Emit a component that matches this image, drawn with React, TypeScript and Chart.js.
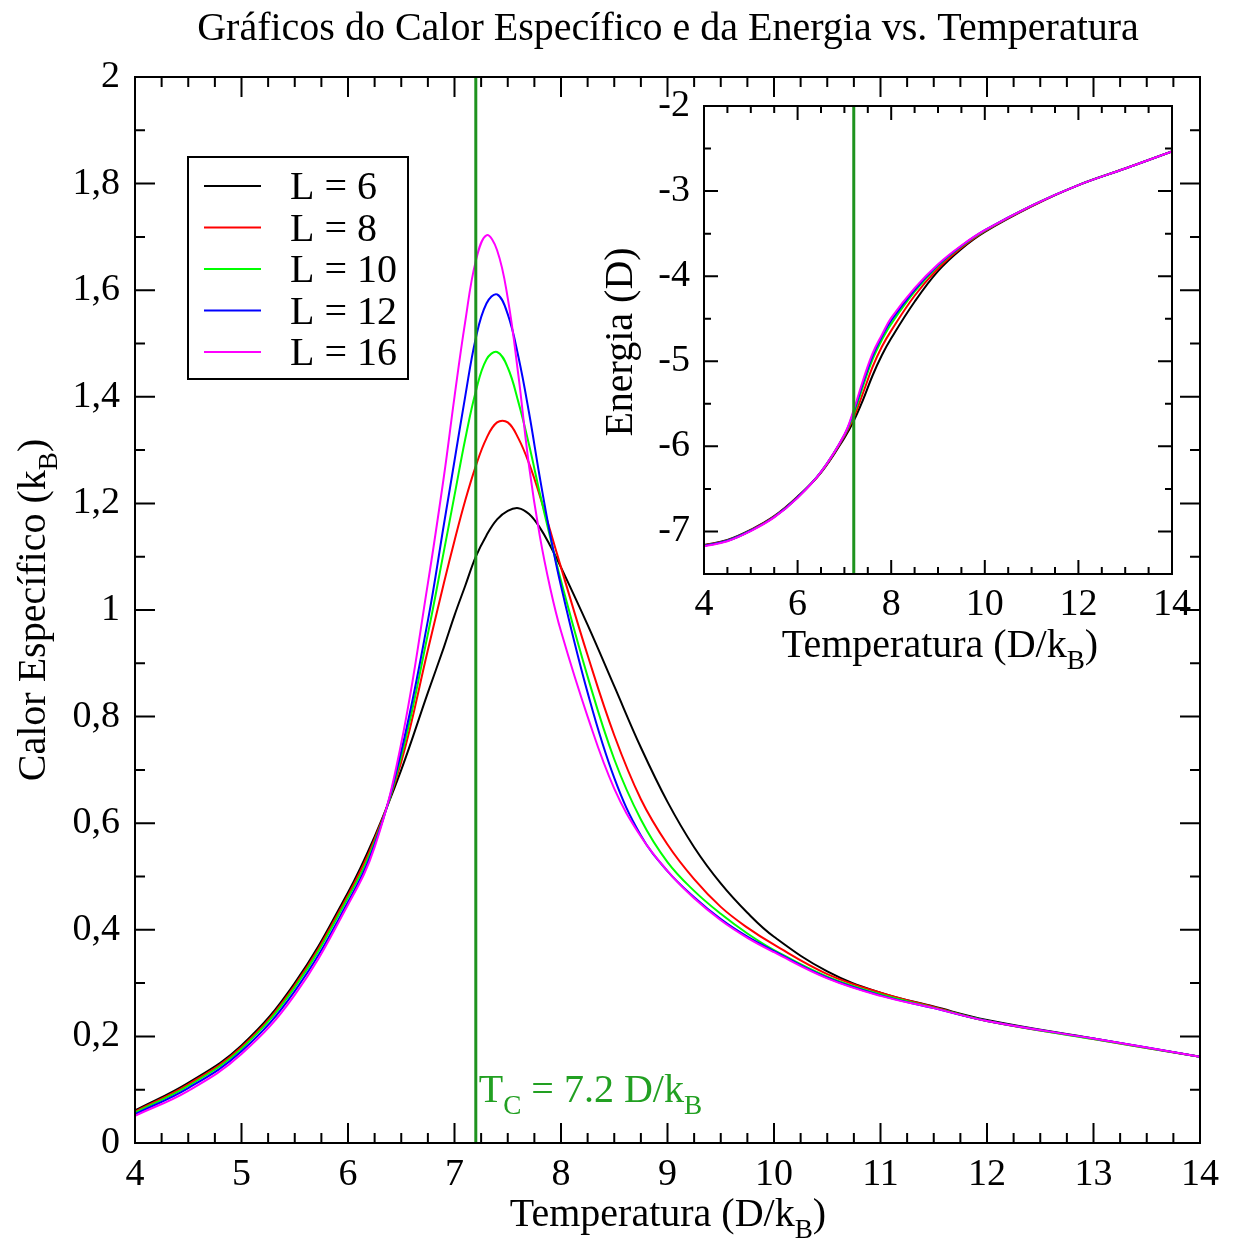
import React, { useEffect, useRef } from 'react';
import { Chart, registerables } from 'chart.js';

Chart.register(...registerables);

const SERIF = '"Liberation Serif", "Times New Roman", serif';
const PAGE_W = 1234;
const PAGE_H = 1241;
const TEXT_SIZE = 40;
const TICK_SIZE = 38;

// Lattice sizes and their line colours
const lattices = ['L = 6', 'L = 8', 'L = 10', 'L = 12', 'L = 16'];
const colors = ['#000000', '#ff0000', '#00ff00', '#0000ff', '#ff00ff'];

// Specific heat C(T) in units of k_B
const temperature = [4, 4.5, 5, 5.5, 6, 6.25, 6.5, 6.75, 6.9, 7, 7.1, 7.2, 7.3, 7.4, 7.5, 7.6, 7.7, 7.8, 7.9, 8, 8.25, 8.5, 8.75, 9, 9.25, 9.5, 9.75, 10, 10.5, 11, 11.5, 12, 13, 14];
const heatL6 = [0.061, 0.113, 0.183, 0.300, 0.470, 0.575, 0.700, 0.845, 0.930, 0.990, 1.045, 1.100, 1.140, 1.170, 1.186, 1.191, 1.180, 1.155, 1.120, 1.080, 0.972, 0.857, 0.742, 0.640, 0.555, 0.487, 0.432, 0.387, 0.322, 0.282, 0.256, 0.231, 0.196, 0.162];
const heatL8 = [0.059, 0.110, 0.180, 0.296, 0.465, 0.570, 0.715, 0.925, 1.050, 1.130, 1.205, 1.270, 1.322, 1.352, 1.352, 1.322, 1.275, 1.215, 1.148, 1.080, 0.915, 0.765, 0.645, 0.560, 0.495, 0.443, 0.404, 0.372, 0.317, 0.282, 0.255, 0.229, 0.195, 0.162];
const heatL10 = [0.057, 0.107, 0.177, 0.292, 0.460, 0.565, 0.725, 0.955, 1.110, 1.215, 1.320, 1.410, 1.470, 1.484, 1.455, 1.390, 1.310, 1.220, 1.135, 1.055, 0.875, 0.720, 0.607, 0.527, 0.473, 0.430, 0.393, 0.362, 0.312, 0.279, 0.254, 0.229, 0.195, 0.162];
const heatL12 = [0.054, 0.103, 0.172, 0.285, 0.452, 0.560, 0.735, 0.980, 1.160, 1.280, 1.400, 1.510, 1.575, 1.592, 1.555, 1.475, 1.370, 1.250, 1.140, 1.045, 0.845, 0.685, 0.577, 0.510, 0.461, 0.420, 0.387, 0.360, 0.310, 0.277, 0.253, 0.229, 0.196, 0.162];
const heatL16 = [0.051, 0.098, 0.167, 0.278, 0.447, 0.555, 0.750, 1.050, 1.250, 1.400, 1.540, 1.655, 1.703, 1.675, 1.585, 1.440, 1.270, 1.140, 1.040, 0.960, 0.800, 0.665, 0.575, 0.510, 0.459, 0.418, 0.385, 0.358, 0.309, 0.276, 0.253, 0.229, 0.196, 0.162];

// Energy E(T) in units of D
const energyTemperature = [4, 4.5, 5, 5.5, 6, 6.5, 7, 7.2, 7.4, 7.6, 7.8, 8, 8.5, 9, 9.5, 10, 11, 12, 13, 14];
const energyL6 = [-7.16, -7.10, -6.98, -6.82, -6.59, -6.31, -5.90, -5.70, -5.45, -5.17, -4.93, -4.73, -4.30, -3.94, -3.68, -3.48, -3.18, -2.93, -2.735, -2.535];
const energyL8 = [-7.165, -7.105, -6.985, -6.825, -6.595, -6.305, -5.88, -5.66, -5.37, -5.07, -4.83, -4.64, -4.23, -3.91, -3.665, -3.47, -3.175, -2.93, -2.735, -2.535];
const energyL10 = [-7.17, -7.11, -6.99, -6.83, -6.60, -6.30, -5.87, -5.62, -5.29, -4.98, -4.75, -4.56, -4.18, -3.88, -3.65, -3.465, -3.17, -2.93, -2.735, -2.535];
const energyL12 = [-7.17, -7.11, -6.99, -6.83, -6.60, -6.30, -5.865, -5.59, -5.25, -4.94, -4.71, -4.52, -4.16, -3.87, -3.645, -3.46, -3.17, -2.93, -2.735, -2.535];
const energyL16 = [-7.175, -7.115, -6.995, -6.835, -6.605, -6.30, -5.86, -5.57, -5.22, -4.91, -4.69, -4.49, -4.14, -3.86, -3.64, -3.46, -3.17, -2.93, -2.735, -2.535];

const heatSeries = [heatL6, heatL8, heatL10, heatL12, heatL16];
const energySeries = [energyL6, energyL8, energyL10, energyL12, energyL16];

// Critical temperature marker
const criticalTemperature = 7.2;
const tcLineColor = '#1e931e';
const tcTextColor = '#22a022';

// Axis ticks and labels
const mainXTicks = [4, 5, 6, 7, 8, 9, 10, 11, 12, 13, 14];
const mainXLabels = ['4', '5', '6', '7', '8', '9', '10', '11', '12', '13', '14'];
const mainYTicks = [0, 0.2, 0.4, 0.6, 0.8, 1, 1.2, 1.4, 1.6, 1.8, 2];
const mainYLabels = ['0', '0,2', '0,4', '0,6', '0,8', '1', '1,2', '1,4', '1,6', '1,8', '2'];
const mainXMinorStep = 0.25;
const mainYMinorStep = 0.1;

const insetXTicks = [4, 6, 8, 10, 12, 14];
const insetXLabels = ['4', '6', '8', '10', '12', '14'];
const insetYTicks = [-7, -6, -5, -4, -3, -2];
const insetYLabels = ['-7', '-6', '-5', '-4', '-3', '-2'];
const insetXMinorStep = 0.5;
const insetYMinorStep = 0.5;

type Seg = { t: string; sub?: boolean };

function stepValues(min: number, max: number, step: number): number[] {
  const out: number[] = [];
  const n = Math.round((max - min) / step);
  for (let i = 0; i <= n; i++) out.push(+(min + i * step).toFixed(6));
  return out;
}

function drawRich(
  ctx: CanvasRenderingContext2D,
  segs: Seg[],
  x: number,
  y: number,
  size: number,
  align: 'left' | 'center',
  color: string
) {
  const subSize = size * 0.68;
  const widths = segs.map((s) => {
    ctx.font = `${s.sub ? subSize : size}px ${SERIF}`;
    return ctx.measureText(s.t).width;
  });
  const total = widths.reduce((a, b) => a + b, 0);
  let cx = align === 'center' ? x - total / 2 : x;
  ctx.fillStyle = color;
  ctx.textAlign = 'left';
  ctx.textBaseline = 'alphabetic';
  segs.forEach((s, i) => {
    ctx.font = `${s.sub ? subSize : size}px ${SERIF}`;
    ctx.fillText(s.t, cx, s.sub ? y + size * 0.3 : y);
    cx += widths[i];
  });
}

function drawFrameAndTicks(
  chart: Chart,
  xMajor: number[],
  xMinor: number[],
  yMajor: number[],
  yMinor: number[],
  majorLen: number,
  minorLen: number
) {
  const { ctx, chartArea: a } = chart;
  const xs = chart.scales.x;
  const ys = chart.scales.y;
  ctx.save();
  ctx.strokeStyle = '#000';
  ctx.lineWidth = 2;
  ctx.beginPath();
  const xTick = (v: number, len: number) => {
    const p = xs.getPixelForValue(v);
    ctx.moveTo(p, a.bottom);
    ctx.lineTo(p, a.bottom - len);
    ctx.moveTo(p, a.top);
    ctx.lineTo(p, a.top + len);
  };
  const yTick = (v: number, len: number) => {
    const p = ys.getPixelForValue(v);
    ctx.moveTo(a.left, p);
    ctx.lineTo(a.left + len, p);
    ctx.moveTo(a.right, p);
    ctx.lineTo(a.right - len, p);
  };
  xMinor.forEach((v) => xTick(v, minorLen));
  xMajor.forEach((v) => xTick(v, majorLen));
  yMinor.forEach((v) => yTick(v, minorLen));
  yMajor.forEach((v) => yTick(v, majorLen));
  ctx.stroke();
  ctx.strokeRect(a.left, a.top, a.right - a.left, a.bottom - a.top);
  ctx.restore();
}

// Larger lattices are drawn on top (lower order is painted last)
function curveDataset(label: string, color: string, xs: number[], ys: number[], index: number) {
  return {
    label,
    data: xs.map((x, i) => ({ x, y: ys[i] })),
    borderColor: color,
    backgroundColor: color,
    borderWidth: 2,
    pointRadius: 0,
    tension: 0.4,
    fill: false,
    order: 10 - index,
  };
}

function tcDataset(yMin: number, yMax: number) {
  return {
    label: 'Tc',
    data: [
      { x: criticalTemperature, y: yMin },
      { x: criticalTemperature, y: yMax },
    ],
    borderColor: tcLineColor,
    backgroundColor: tcLineColor,
    borderWidth: 3,
    pointRadius: 0,
    tension: 0,
    fill: false,
    order: 0,
  };
}

function fixedScale(
  min: number,
  max: number,
  ticks: number[],
  labels: string[],
  padding: number,
  fit: (s: any) => void
) {
  return {
    type: 'linear' as const,
    min,
    max,
    grid: { display: false, drawTicks: false },
    border: { display: false },
    afterBuildTicks: (s: any) => {
      s.ticks = ticks.map((v) => ({ value: v }));
    },
    afterFit: fit,
    ticks: {
      autoSkip: false,
      maxRotation: 0,
      minRotation: 0,
      padding,
      color: '#000',
      font: { family: SERIF, size: TICK_SIZE },
      callback: (_v: any, i: number) => labels[i],
    },
  };
}

const MAIN_AREA = { left: 135, top: 77, right: 1200, bottom: 1143 };
const INSET_BOX = { left: 580, top: 60, width: 654, height: 620 };
const INSET_AREA = { left: 124, top: 46, right: 592, bottom: 514 };

const mainDecor = {
  id: 'mainDecor',
  afterDraw(chart: Chart) {
    const ctx = chart.ctx;
    drawFrameAndTicks(
      chart,
      mainXTicks,
      stepValues(4, 14, mainXMinorStep),
      mainYTicks,
      stepValues(0, 2, mainYMinorStep),
      20,
      10
    );
    ctx.save();
    // title
    drawRich(ctx, [{ t: 'Gráficos do Calor Específico e da Energia vs. Temperatura' }], 668, 40, TEXT_SIZE, 'center', '#000');
    // x axis title
    drawRich(ctx, [{ t: 'Temperatura (D/k' }, { t: 'B', sub: true }, { t: ')' }], 668, 1226, TEXT_SIZE, 'center', '#000');
    // y axis title
    ctx.save();
    ctx.translate(45, 610);
    ctx.rotate(-Math.PI / 2);
    drawRich(ctx, [{ t: 'Calor Específico (k' }, { t: 'B', sub: true }, { t: ')' }], 0, 0, TEXT_SIZE, 'center', '#000');
    ctx.restore();
    // critical temperature label
    const tx = chart.scales.x.getPixelForValue(criticalTemperature);
    drawRich(ctx, [{ t: 'T' }, { t: 'C', sub: true }, { t: ' = 7.2 D/k' }, { t: 'B', sub: true }], tx + 3, 1102, TEXT_SIZE, 'left', tcTextColor);
    // legend
    ctx.strokeStyle = '#000';
    ctx.lineWidth = 2;
    ctx.strokeRect(188, 157, 220, 222);
    const rows = [186, 227.5, 269, 310.5, 352];
    lattices.forEach((name, i) => {
      ctx.strokeStyle = colors[i];
      ctx.lineWidth = 2;
      ctx.beginPath();
      ctx.moveTo(204, rows[i]);
      ctx.lineTo(261, rows[i]);
      ctx.stroke();
      drawRich(ctx, [{ t: name }], 290, rows[i] + 13, TEXT_SIZE, 'left', '#000');
    });
    ctx.restore();
  },
};

const insetDecor = {
  id: 'insetDecor',
  afterDraw(chart: Chart) {
    const ctx = chart.ctx;
    drawFrameAndTicks(
      chart,
      insetXTicks,
      stepValues(4, 14, insetXMinorStep),
      insetYTicks,
      stepValues(-7.5, -2, insetYMinorStep),
      14,
      7
    );
    ctx.save();
    drawRich(ctx, [{ t: 'Temperatura (D/k' }, { t: 'B', sub: true }, { t: ')' }], 360, 597, TEXT_SIZE, 'center', '#000');
    ctx.translate(52, 282);
    ctx.rotate(-Math.PI / 2);
    drawRich(ctx, [{ t: 'Energia (D)' }], 0, 0, TEXT_SIZE, 'center', '#000');
    ctx.restore();
  },
};

export default function App() {
  const mainRef = useRef<HTMLCanvasElement>(null);
  const insetRef = useRef<HTMLCanvasElement>(null);

  useEffect(() => {
    if (!mainRef.current || !insetRef.current) return;

    const mainChart = new Chart(mainRef.current, {
      type: 'line',
      data: {
        datasets: [
          tcDataset(0, 2),
          ...lattices.map((l, i) => curveDataset(l, colors[i], temperature, heatSeries[i], i)),
        ] as any,
      },
      options: {
        responsive: false,
        maintainAspectRatio: false,
        animation: false,
        layout: { padding: { left: 0, top: MAIN_AREA.top, right: PAGE_W - MAIN_AREA.right, bottom: 0 } },
        plugins: { legend: { display: false }, title: { display: false }, tooltip: { enabled: false } },
        scales: {
          x: fixedScale(4, 14, mainXTicks, mainXLabels, 9, (s: any) => {
            s.height = PAGE_H - MAIN_AREA.bottom;
          }),
          y: fixedScale(0, 2, mainYTicks, mainYLabels, 15, (s: any) => {
            s.width = MAIN_AREA.left;
          }),
        },
      },
      plugins: [mainDecor],
    });

    const insetChart = new Chart(insetRef.current, {
      type: 'line',
      data: {
        datasets: [
          tcDataset(-7.5, -2),
          ...lattices.map((l, i) => curveDataset(l, colors[i], energyTemperature, energySeries[i], i)),
        ] as any,
      },
      options: {
        responsive: false,
        maintainAspectRatio: false,
        animation: false,
        layout: {
          padding: { left: 0, top: INSET_AREA.top, right: INSET_BOX.width - INSET_AREA.right, bottom: 0 },
        },
        plugins: { legend: { display: false }, title: { display: false }, tooltip: { enabled: false } },
        scales: {
          x: fixedScale(4, 14, insetXTicks, insetXLabels, 8, (s: any) => {
            s.height = INSET_BOX.height - INSET_AREA.bottom;
          }),
          y: fixedScale(-7.5, -2, insetYTicks, insetYLabels, 14, (s: any) => {
            s.width = INSET_AREA.left;
          }),
        },
      },
      plugins: [insetDecor],
    });

    return () => {
      mainChart.destroy();
      insetChart.destroy();
    };
  }, []);

  return (
    <div style={{ position: 'absolute', left: 0, top: 0, width: PAGE_W, height: PAGE_H, background: '#fff' }}>
      <canvas
        ref={mainRef}
        width={PAGE_W}
        height={PAGE_H}
        style={{ position: 'absolute', left: 0, top: 0, width: PAGE_W, height: PAGE_H }}
      />
      <canvas
        ref={insetRef}
        width={INSET_BOX.width}
        height={INSET_BOX.height}
        style={{
          position: 'absolute',
          left: INSET_BOX.left,
          top: INSET_BOX.top,
          width: INSET_BOX.width,
          height: INSET_BOX.height,
        }}
      />
    </div>
  );
}
